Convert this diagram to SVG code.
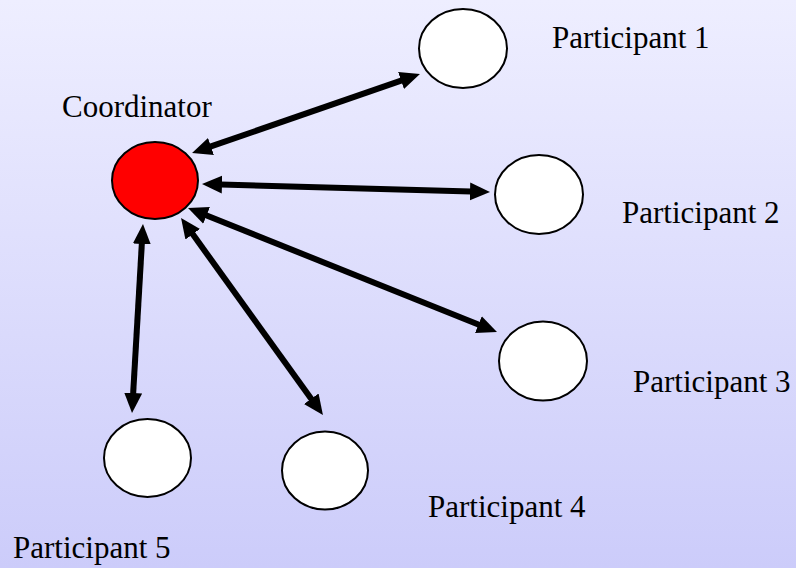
<svg xmlns="http://www.w3.org/2000/svg" width="796" height="568" viewBox="0 0 796 568">
  <defs>
    <linearGradient id="bg" x1="0" y1="0" x2="0" y2="1">
      <stop offset="0" stop-color="#EEEEFF"/>
      <stop offset="1" stop-color="#CCCCFA"/>
    </linearGradient>
    <marker id="head" markerUnits="userSpaceOnUse" markerWidth="22" markerHeight="22" viewBox="0 -11 22 22" refX="10" refY="0" orient="auto-start-reverse">
      <path d="M0,-9 L20,0 L0,9 Z" fill="#000"/>
    </marker>
    <style>
      .node { stroke: #000; stroke-width: 2; }
      .coord { fill: #FF0000; }
      .part { fill: #FFFFFF; }
      .label { font-family: "Liberation Serif", "Times New Roman", serif; font-size: 31px; fill: #000; }
      .link { stroke: #000; stroke-width: 6; fill: none; marker-start: url(#head); marker-end: url(#head); }
    </style>
  </defs>

  <rect x="0" y="0" width="796" height="568" fill="url(#bg)"/>

  <!-- two-way links between coordinator and participants -->
  <g id="connectors">
    <line class="link" x1="201.5" y1="149.7" x2="410.5" y2="77.3"/>
    <line class="link" x1="212" y1="184.3" x2="480" y2="191.7"/>
    <line class="link" x1="197.3" y1="211.7" x2="487.7" y2="328.3"/>
    <line class="link" x1="186.9" y1="226.1" x2="317.1" y2="406.9"/>
    <line class="link" x1="142.4" y1="234" x2="132.6" y2="403"/>
  </g>

  <g id="coordinator">
    <ellipse class="node coord" cx="155" cy="180.5" rx="43" ry="38.5"/>
    <text class="label" x="62" y="117">Coordinator</text>
  </g>

  <g id="participant1">
    <ellipse class="node part" cx="463" cy="48.5" rx="44" ry="39.5"/>
    <text class="label" x="552" y="48">Participant 1</text>
  </g>

  <g id="participant2">
    <ellipse class="node part" cx="539" cy="194.5" rx="44" ry="39.5"/>
    <text class="label" x="622" y="223">Participant 2</text>
  </g>

  <g id="participant3">
    <ellipse class="node part" cx="543" cy="361" rx="44" ry="39.5"/>
    <text class="label" x="633" y="392">Participant 3</text>
  </g>

  <g id="participant4">
    <ellipse class="node part" cx="325" cy="470.5" rx="43" ry="39"/>
    <text class="label" x="428" y="517">Participant 4</text>
  </g>

  <g id="participant5">
    <ellipse class="node part" cx="147.5" cy="458" rx="43.5" ry="39"/>
    <text class="label" x="13" y="558">Participant 5</text>
  </g>
</svg>
